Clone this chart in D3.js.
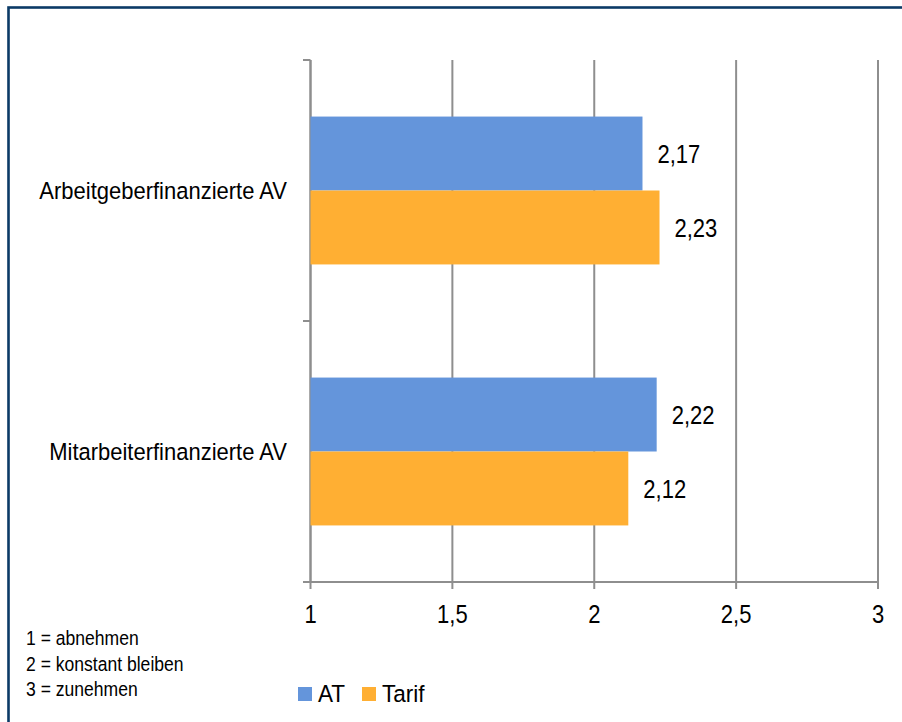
<!DOCTYPE html>
<html>
<head>
<meta charset="utf-8">
<script src="https://cdn.jsdelivr.net/npm/d3@7"></script>
<style>
  html, body { margin: 0; padding: 0; background: #fff; }
  svg { display: block; }
  text { font-family: "Liberation Sans", Arial, sans-serif; fill: #000; }
</style>
</head>
<body>
<svg id="chart" width="902" height="722"></svg>
<script>
// Categories, series and tick labels
const categories = ["Arbeitgeberfinanzierte AV", "Mitarbeiterfinanzierte AV"];
const seriesNames = ["AT", "Tarif"];
const atValues = [2.17, 2.22];
const tarifValues = [2.23, 2.12];
const xTicks = [1, 1.5, 2, 2.5, 3];
const notes = ["1 = abnehmen", "2 = konstant bleiben", "3 = zunehmen"];
const colors = { AT: "#6495DB", Tarif: "#FFAF33" };

const rows = categories.map((c, i) => ({
  category: c,
  values: [
    { series: "AT", value: atValues[i] },
    { series: "Tarif", value: tarifValues[i] }
  ]
}));

const svg = d3.select("#chart");
const fmt = v => String(v).replace(".", ",");

// Slightly condensed lettering: taller glyphs, squeezed horizontally
function condensed(sel, size, sx) {
  sel.style("font-size", size + "px")
     .attr("transform", function () {
       const x = +this.getAttribute("data-x"), y = +this.getAttribute("data-y");
       return `translate(${x},${y}) scale(${sx},1)`;
     });
}

// Outer frame (left and top edges visible)
svg.append("rect")
  .attr("x", 8.5).attr("y", 7.5)
  .attr("width", 910).attr("height", 730)
  .attr("fill", "none")
  .attr("stroke", "#0B3A66")
  .attr("stroke-width", 2.6);

const plot = { left: 310.5, right: 878, top: 60, bottom: 582 };

const x = d3.scaleLinear().domain([1, 3]).range([plot.left, plot.right]);
const y = d3.scaleBand().domain(categories).range([plot.top, plot.bottom]).padding(0);
const ySub = d3.scaleBand().domain(seriesNames).range([0, y.bandwidth()])
  .paddingInner(0).paddingOuter(0.765);

const gridColor = "#8E8E8E";

// Vertical gridlines
svg.append("g").selectAll("line")
  .data(xTicks)
  .join("line")
  .attr("x1", d => x(d)).attr("x2", d => x(d))
  .attr("y1", plot.top).attr("y2", plot.bottom)
  .attr("stroke", gridColor).attr("stroke-width", 2);

// Category axis (left) with tick marks on band edges
svg.append("line")
  .attr("x1", plot.left).attr("x2", plot.left)
  .attr("y1", plot.top).attr("y2", plot.bottom)
  .attr("stroke", gridColor).attr("stroke-width", 2);
const bandEdges = categories.map(c => y(c)).concat([plot.bottom]);
svg.append("g").selectAll("line")
  .data(bandEdges)
  .join("line")
  .attr("x1", plot.left - 7.5).attr("x2", plot.left)
  .attr("y1", d => d).attr("y2", d => d)
  .attr("stroke", gridColor).attr("stroke-width", 2);

// Value axis (bottom)
svg.append("line")
  .attr("x1", plot.left - 7.5).attr("x2", plot.right)
  .attr("y1", plot.bottom).attr("y2", plot.bottom)
  .attr("stroke", gridColor).attr("stroke-width", 2);
svg.append("g").selectAll("line")
  .data(xTicks)
  .join("line")
  .attr("x1", d => x(d)).attr("x2", d => x(d))
  .attr("y1", plot.bottom).attr("y2", plot.bottom + 7)
  .attr("stroke", gridColor).attr("stroke-width", 2);
svg.append("g").selectAll("text")
  .data(xTicks)
  .join("text")
  .attr("data-x", d => x(d))
  .attr("data-y", plot.bottom + 41)
  .attr("text-anchor", "middle")
  .text(d => fmt(d))
  .call(condensed, 25.6, 0.86);

// Bars
const groups = svg.append("g").selectAll("g")
  .data(rows)
  .join("g")
  .attr("transform", d => `translate(0,${y(d.category)})`);

groups.selectAll("rect")
  .data(d => d.values)
  .join("rect")
  .attr("x", x(1))
  .attr("y", d => ySub(d.series))
  .attr("width", d => x(d.value) - x(1))
  .attr("height", ySub.bandwidth())
  .attr("fill", d => colors[d.series]);

groups.selectAll("text")
  .data(d => d.values)
  .join("text")
  .attr("data-x", d => x(d.value) + 15)
  .attr("data-y", d => ySub(d.series) + ySub.bandwidth() / 2 + 9.5)
  .text(d => fmt(d.value))
  .call(condensed, 25.6, 0.86);

// Category labels
svg.append("g").selectAll("text")
  .data(categories)
  .join("text")
  .attr("data-x", 287)
  .attr("data-y", d => y(d) + y.bandwidth() / 2 + 8.5)
  .attr("text-anchor", "end")
  .text(d => d)
  .call(condensed, 23.3, 0.944);

// Scale notes
svg.append("g").selectAll("text")
  .data(notes)
  .join("text")
  .attr("data-x", 26)
  .attr("data-y", (d, i) => 645 + i * 25.5)
  .text(d => d)
  .call(condensed, 19.5, 0.9);

// Legend
const legendX = [298, 362];
const legend = svg.append("g").selectAll("g")
  .data(seriesNames)
  .join("g")
  .attr("transform", (d, i) => `translate(${legendX[i]},687)`);
legend.append("rect")
  .attr("width", 14).attr("height", 14)
  .attr("fill", d => colors[d]);
legend.append("text")
  .attr("data-x", 20).attr("data-y", 15)
  .text(d => d)
  .call(condensed, 24.5, 0.92);
</script>
</body>
</html>
